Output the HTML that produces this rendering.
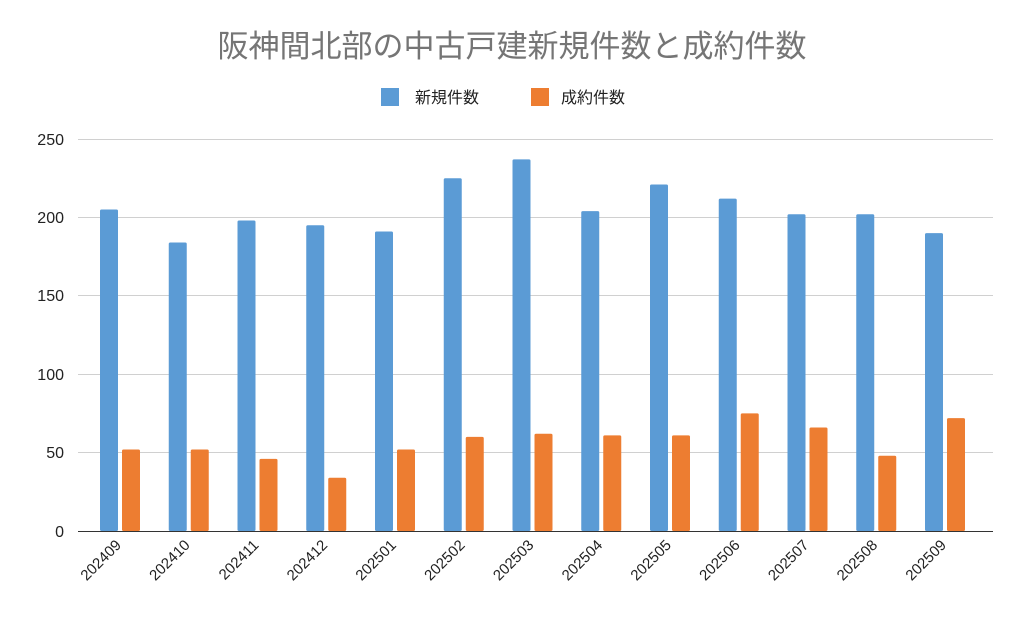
<!DOCTYPE html>
<html><head><meta charset="utf-8"><style>
html,body{margin:0;padding:0;background:#fff;}
text{font-family:"Liberation Sans","Noto Sans CJK JP",sans-serif;}
</style></head><body>
<svg width="1024" height="626" xmlns="http://www.w3.org/2000/svg">
<rect width="1024" height="626" fill="#fff"/>
<text x="512" y="57" font-size="31" fill="#757575" text-anchor="middle">阪神間北部の中古戸建新規件数と成約件数</text>
<rect x="381" y="88" width="18" height="18" fill="#5b9bd5"/>
<text x="415" y="103" font-size="16" fill="#222">新規件数</text>
<rect x="531" y="88" width="18" height="18" fill="#ed7d31"/>
<text x="561" y="103" font-size="16" fill="#222">成約件数</text>
<g stroke="#d0d0d0" stroke-width="1">
<line x1="78" x2="993" y1="139.5" y2="139.5"/>
<line x1="78" x2="993" y1="217.5" y2="217.5"/>
<line x1="78" x2="993" y1="295.5" y2="295.5"/>
<line x1="78" x2="993" y1="374.5" y2="374.5"/>
<line x1="78" x2="993" y1="452.5" y2="452.5"/>
</g>
<line x1="78" x2="993" y1="531.5" y2="531.5" stroke="#333" stroke-width="1"/>
<g font-size="16" fill="#222" text-anchor="end">
<text x="64" y="145">250</text><text x="64" y="223">200</text><text x="64" y="301">150</text>
<text x="64" y="380">100</text><text x="64" y="458">50</text><text x="64" y="537">0</text>
</g>
<g id="bars"></g>
<g id="labels" font-size="15" fill="#222" text-anchor="end"></g>
</svg>
<script>
var b=[205,184,198,195,191,225,237,204,221,212,202,202,190];
var o=[52,52,46,34,52,60,62,61,61,75,66,48,72];
var l=["202409","202410","202411","202412","202501","202502","202503","202504","202505","202506","202507","202508","202509"];
var g=document.getElementById("bars"),L=document.getElementById("labels"),ns="http://www.w3.org/2000/svg";
var w=68.75,k=1.568;
for(var i=0;i<13;i++){
 var x0=100+w*i;
 [[b[i],x0,"#5b9bd5"],[o[i],x0+22,"#ed7d31"]].forEach(function(d){
  var r=document.createElementNS(ns,"rect");var h=d[0]*k;
  r.setAttribute("x",d[1]);r.setAttribute("y",531-h);r.setAttribute("width",18);r.setAttribute("height",h);
  r.setAttribute("fill",d[2]);r.setAttribute("rx",1.5);g.appendChild(r);});
 var t=document.createElementNS(ns,"text");
 t.setAttribute("transform","translate("+(x0+22)+",546) rotate(-45)");t.textContent=l[i];L.appendChild(t);
}
</script>
</body></html>
